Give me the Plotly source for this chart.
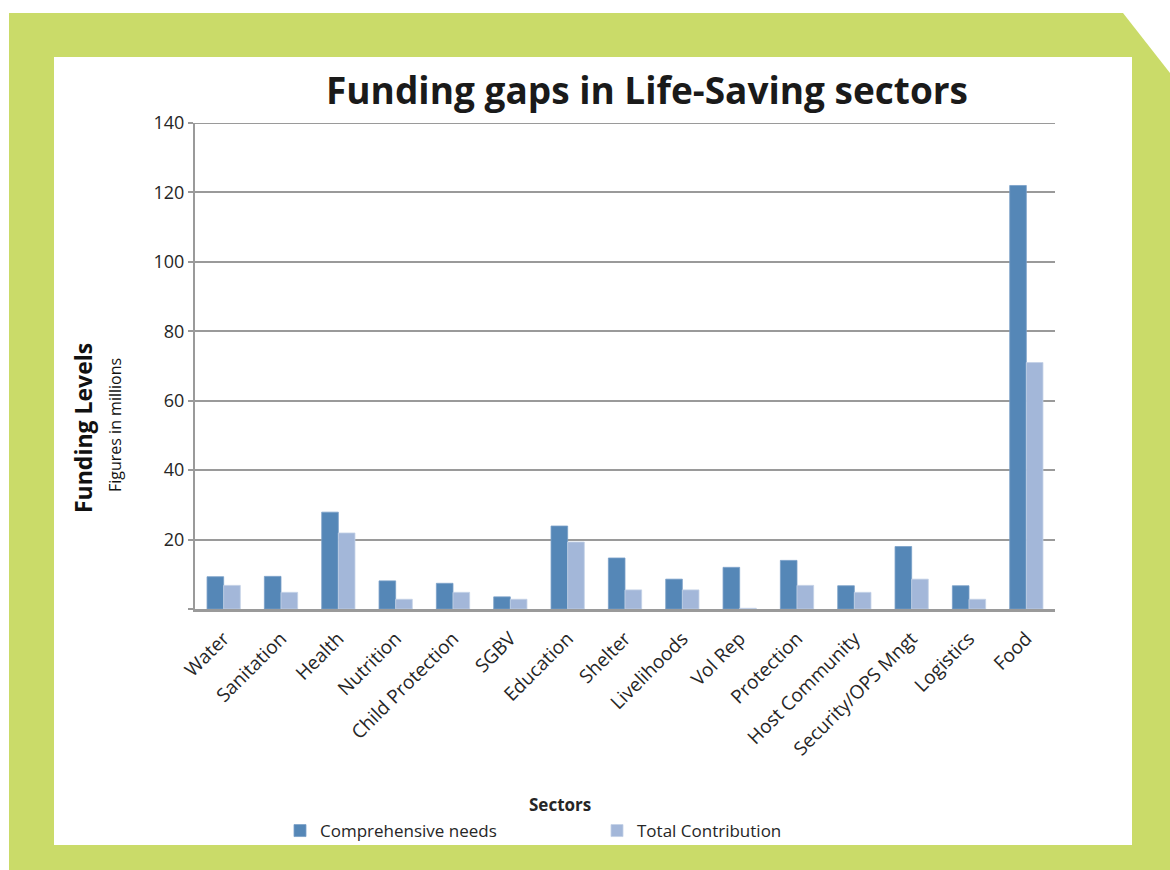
import plotly.graph_objects as go

# Sector funding, in millions
sectors = ["Water", "Sanitation", "Health", "Nutrition", "Child Protection", "SGBV",
           "Education", "Shelter", "Livelihoods", "Vol Rep", "Protection",
           "Host Community", "Security/OPS Mngt", "Logistics", "Food"]
comprehensive_needs = [9.3, 9.4, 27.9, 8.1, 7.4, 3.5, 23.9, 14.7, 8.6, 12.0, 14.0, 6.7, 18.0, 6.7, 122.0]
total_contribution = [6.8, 4.8, 21.9, 2.8, 4.8, 2.8, 19.3, 5.5, 5.5, 0.2, 6.8, 4.8, 8.6, 2.8, 71.0]
y_ticks = [0, 20, 40, 60, 80, 100, 120, 140]
y_tick_text = ["", "20", "40", "60", "80", "100", "120", "140"]

W, H = 1170, 870
L, R, T, B = 195, 1055, 123, 609   # plot area in pixels

def px(x):
    return (x - L) / (R - L)

def py(y):
    return (B - y) / (B - T)

GREEN = "#cadb69"
TXT = "#262626"
GRID = "#9a9a9a"

fig = go.Figure()
fig.add_trace(go.Bar(name="Comprehensive needs", x=sectors, y=comprehensive_needs,
                     marker=dict(color="#5587b7", line=dict(color="#7aa0c8", width=0.8))))
fig.add_trace(go.Bar(name="Total Contribution", x=sectors, y=total_contribution,
                     marker=dict(color="#a3b7d9", line=dict(color="#c3d0e6", width=0.8))))

frame_path = ("M {} {} L {} {} L {} {} L {} {} L {} {} Z").format(
    px(9), py(13), px(1123), py(13), px(1170), py(73), px(1170), py(870), px(9), py(870))

shapes = [
    dict(type="path", xref="paper", yref="paper", path=frame_path,
         fillcolor=GREEN, line=dict(width=0), layer="below"),
    dict(type="rect", xref="paper", yref="paper", x0=px(54), x1=px(1132), y0=py(845), y1=py(57),
         fillcolor="white", line=dict(width=0), layer="below"),
    # top gridline at 140
    dict(type="line", xref="paper", yref="y", x0=0, x1=1, y0=140, y1=140,
         line=dict(color=GRID, width=2), layer="below"),
]

annotations = [
    dict(text="<b>Funding gaps in Life-Saving sectors</b>", xref="paper", yref="paper",
         x=px(647), y=py(89), showarrow=False, font=dict(family="Open Sans", size=37, color="#1a1a1a"),
         xanchor="center", yanchor="middle"),
    dict(text="<b>Funding Levels</b>", xref="paper", yref="paper", x=px(83), y=py(428),
         showarrow=False, textangle=-90, font=dict(family="Open Sans", size=23, color="#111"),
         xanchor="center", yanchor="middle"),
    dict(text="Figures in millions", xref="paper", yref="paper", x=px(115), y=py(425),
         showarrow=False, textangle=-90, font=dict(family="Open Sans", size=16, color="#111"),
         xanchor="center", yanchor="middle"),
    dict(text="<b>Sectors</b>", xref="paper", yref="paper", x=px(560), y=py(804),
         showarrow=False, font=dict(family="Open Sans", size=17, color=TXT),
         xanchor="center", yanchor="middle"),
]

fig.update_layout(
    width=W, height=H,
    margin=dict(l=L, r=W - R, t=T, b=H - B, pad=0),
    paper_bgcolor="white", plot_bgcolor="rgba(0,0,0,0)",
    barmode="group", bargap=0.42, bargroupgap=0,
    font=dict(family="Open Sans", color=TXT),
    shapes=shapes, annotations=annotations,
    showlegend=True,
    legend=dict(orientation="h", x=px(280), y=py(831), xanchor="left", yanchor="middle",
                font=dict(family="Open Sans", size=17, color=TXT), entrywidth=272,
                entrywidthmode="pixels", itemwidth=30, bgcolor="rgba(0,0,0,0)",
                traceorder="normal"),
)

fig.update_xaxes(
    tickangle=-45, tickfont=dict(family="Open Sans", size=19, color=TXT),
    ticklabelstandoff=8,
    showline=True, linecolor=GRID, linewidth=3, ticks="", showgrid=False,
)
fig.update_yaxes(
    range=[0, 140], tickvals=y_ticks, ticktext=y_tick_text,
    tickfont=dict(family="Open Sans", size=18, color=TXT),
    showgrid=True, gridcolor=GRID, gridwidth=2,
    showline=True, linecolor=GRID, linewidth=2,
    ticks="outside", ticklen=5, tickcolor=GRID, tickwidth=2,
    zeroline=False,
)

fig.write_html("out.html")
